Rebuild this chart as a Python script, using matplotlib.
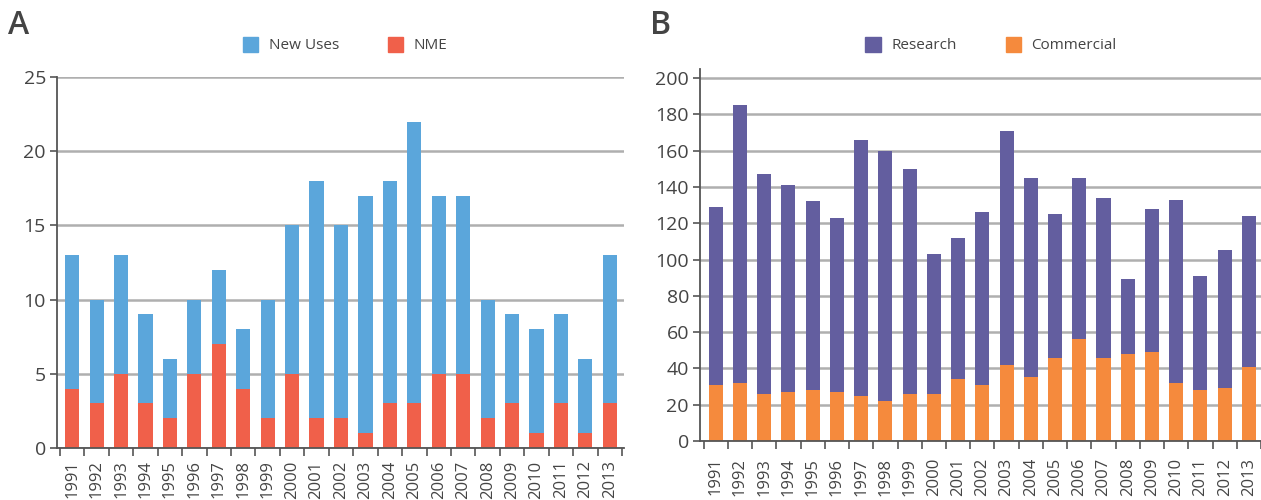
import matplotlib
matplotlib.use("Agg")
import matplotlib.pyplot as plt
import numpy as np
from matplotlib.patches import Patch

years = [str(y) for y in range(1991, 2014)]

# Panel A
nme = [4, 3, 5, 3, 2, 5, 7, 4, 2, 5, 2, 2, 1, 3, 3, 5, 5, 2, 3, 1, 3, 1, 3]
new_uses = [9, 7, 8, 6, 4, 5, 5, 4, 8, 10, 16, 13, 16, 15, 19, 12, 12, 8, 6, 7, 6, 5, 10]

# Panel B
commercial = [31, 32, 26, 27, 28, 27, 25, 22, 26, 26, 34, 31, 42, 35, 46, 56, 46, 48, 49, 32, 28, 29, 41]
research = [98, 153, 121, 114, 104, 96, 141, 138, 124, 77, 78, 95, 129, 110, 79, 89, 88, 41, 79, 101, 63, 76, 83]

C_BLUE = "#5BA6DB"
C_RED = "#F0604A"
C_PURPLE = "#635E9F"
C_ORANGE = "#F58A3D"
TXT = "#444444"
GRID = "#AFAFAF"
SPINE = "#555555"

plt.rcParams['font.family'] = ['Open Sans', 'DejaVu Sans']

fig = plt.figure(figsize=(12.61, 5.0), dpi=100)

def style(ax, ylim, yticks, xlim, xpad):
    x = np.arange(len(years))
    ax.set_xlim(*xlim)
    ax.set_ylim(*ylim)
    ax.set_yticks(yticks)
    ax.set_yticklabels([str(v) for v in yticks], fontsize=14, color=TXT)
    ax.set_xticks(x)
    ax.set_xticklabels(years, rotation=90, fontsize=12, color=TXT)
    ax.tick_params(axis='x', which='major', length=0, pad=xpad)
    ax.set_xticks(np.arange(-0.5, len(years) + 0.5, 1.0), minor=True)
    ax.tick_params(axis='x', which='minor', length=6, width=1.2, color=SPINE)
    ax.tick_params(axis='y', length=5, width=1.2, color=SPINE, pad=3)
    for s in ['top', 'right']:
        ax.spines[s].set_visible(False)
    for s in ['left', 'bottom']:
        ax.spines[s].set_color(SPINE)
        ax.spines[s].set_linewidth(1.3)
    ax.set_axisbelow(True)
    ax.yaxis.grid(True, color=GRID, linewidth=1.8)
    ax.xaxis.grid(False)

# Panel A
axA = fig.add_axes([57/1261, 1-448/500, (624-57)/1261, (448-77)/500])
x = np.arange(len(years))
axA.bar(x, nme, width=0.58, color=C_RED, zorder=2)
axA.bar(x, new_uses, bottom=nme, width=0.58, color=C_BLUE, zorder=2)
style(axA, (0, 25), [0, 5, 10, 15, 20, 25], (-0.62, 22.58), 9)
axA.legend(handles=[Patch(color=C_BLUE, label='New Uses'), Patch(color=C_RED, label='NME')],
           loc='center', bbox_to_anchor=(345/1261, 1-45/500), bbox_transform=fig.transFigure,
           ncol=2, frameon=False, fontsize=11, handlelength=1.0, handleheight=1.2,
           columnspacing=3.2, handletextpad=0.7, labelcolor=TXT)
fig.text(8/1261, 1-25/500, 'A', fontsize=23, color=TXT, va='center', ha='left', fontweight='semibold')

# Panel B
axB = fig.add_axes([700/1261, 1-441/500, (1261-700)/1261, (441-69)/500])
axB.bar(x, commercial, width=0.58, color=C_ORANGE, zorder=2)
axB.bar(x, research, bottom=commercial, width=0.58, color=C_PURPLE, zorder=2)
style(axB, (0, 205), list(range(0, 201, 20)), (-0.65, 22.3), 12)
axB.legend(handles=[Patch(color=C_PURPLE, label='Research'), Patch(color=C_ORANGE, label='Commercial')],
           loc='center', bbox_to_anchor=(991/1261, 1-45/500), bbox_transform=fig.transFigure,
           ncol=2, frameon=False, fontsize=11, handlelength=1.0, handleheight=1.2,
           columnspacing=3.2, handletextpad=0.7, labelcolor=TXT)
fig.text(650/1261, 1-25/500, 'B', fontsize=23, color=TXT, va='center', ha='left', fontweight='semibold')

fig.savefig('out.png', dpi=100)
